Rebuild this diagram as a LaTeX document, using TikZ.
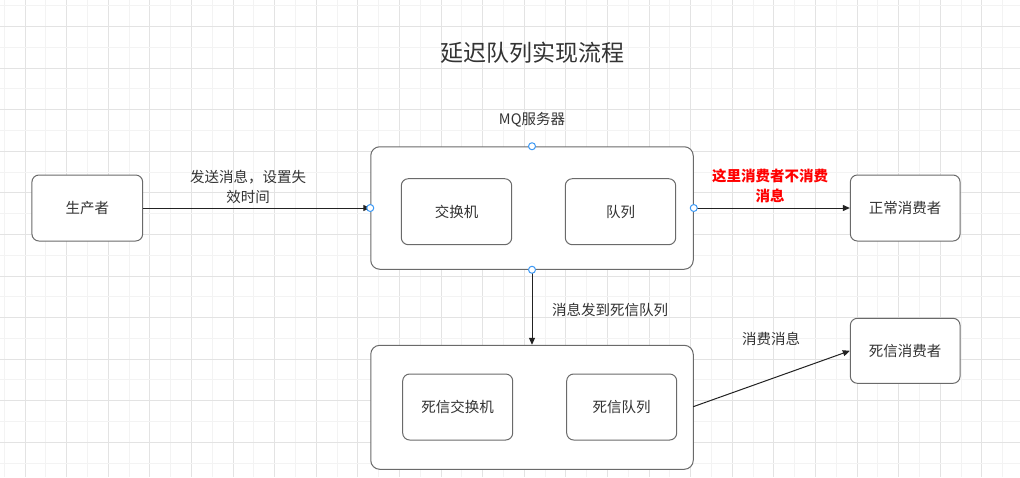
\documentclass[tikz,border=0pt]{standalone}
\usepackage{fontspec}
\newfontfamily\cjk{Noto Sans CJK SC}
\usetikzlibrary{arrows.meta}
\definecolor{gridlight}{HTML}{F3F3F3}
\definecolor{griddark}{HTML}{E3E3E3}
\definecolor{boxline}{HTML}{6A6A6A}
\definecolor{portblue}{HTML}{3D99F5}
\definecolor{edgecol}{HTML}{222222}
\tikzset{
  box/.style={draw=boxline, line width=1pt, fill=white, rounded corners=7pt, inner sep=0pt,
    font=\cjk\fontsize{14.5}{20}\selectfont, text=black!80},
  bigbox/.style={draw=boxline, line width=1pt, fill=white, rounded corners=9pt, inner sep=0pt},
  lbl/.style={font=\cjk\fontsize{14.5}{20}\selectfont, text=black!80, align=center, inner sep=0pt},
  redlbl/.style={font=\cjk\bfseries\fontsize{14.5}{20}\selectfont, text=red, align=center, inner sep=0pt},
  edge/.style={draw=edgecol, line width=1pt, -{Triangle[length=7pt,width=6pt]}},
  port/.style={circle, draw=portblue, fill=white, line width=1pt, minimum size=7pt, inner sep=0pt}
}
\begin{document}
\begin{tikzpicture}[x=1pt,y=-1pt]
\useasboundingbox (0,0) rectangle (1020,477);
\fill[white] (0,0) rectangle (1020,477);
% grid
\foreach \k in {-1,...,48}{
  \pgfmathsetmacro{\xx}{25+20.8*\k}
  \pgfmathtruncatemacro{\pp}{mod(\k+10,2)}
  \ifnum\pp=0 \draw[griddark,line width=1pt] (\xx,0) -- (\xx,477); \else \draw[gridlight,line width=1pt] (\xx,0) -- (\xx,477); \fi
}
\foreach \k in {-14,...,10}{
  \pgfmathsetmacro{\yy}{276+20.78*\k}
  \pgfmathtruncatemacro{\pp}{mod(\k+20,2)}
  \ifnum\pp=0 \draw[griddark,line width=1pt] (0,\yy) -- (1020,\yy); \else \draw[gridlight,line width=1pt] (0,\yy) -- (1020,\yy); \fi
}
% title
\node[lbl, font=\cjk\fontsize{23}{28}\selectfont] (title) at (532.5,53) {延迟队列实现流程};
\node[lbl] (mqlabel) at (532,120) {MQ服务器};
% MQ server
\node[bigbox, minimum width=322.5pt, minimum height=122.5pt] (mq) at (532,208) {};
\node[box, minimum width=110.4pt, minimum height=66pt] (ex) at (456.5,211.7) {交换机};
\node[box, minimum width=110.4pt, minimum height=66pt] (q) at (620.5,211.7) {队列};
% dead letter
\node[bigbox, minimum width=322.5pt, minimum height=124pt] (dl) at (532,407.3) {};
\node[box, minimum width=110pt, minimum height=66pt] (dlx) at (457.7,407) {死信交换机};
\node[box, minimum width=110pt, minimum height=66pt] (dlq) at (621.7,407) {死信队列};
% outer nodes
\node[box, minimum width=110.7pt, minimum height=66pt] (prod) at (87.3,208) {生产者};
\node[box, minimum width=109.7pt, minimum height=66pt] (norm) at (905.2,208) {正常消费者};
\node[box, minimum width=109.7pt, minimum height=65pt] (dead) at (905.2,350.8) {死信消费者};
% edges
\draw[edge] (prod.east) -- (mq.west);
\node[lbl] (l1) at (248,187) {发送消息，设置失\\效时间};
\draw[edge] (mq.east) -- (norm.west);
\node[redlbl] (l2) at (770,186) {这里消费者不消费\\消息};
\draw[edge] (mq.south) -- (dl.north);
\node[lbl, anchor=west] (l3) at (552,310) {消息发到死信队列};
\coordinate (dlout) at (693.2,406.7);
\draw[edge] (dlout) -- (dead.west);
\node[lbl] (l4) at (771,339) {消费消息};
% ports
\node[port] (p1) at (mq.north) {};
\node[port] (p2) at (mq.west) {};
\node[port] (p3) at (mq.east) {};
\node[port] (p4) at (mq.south) {};
\end{tikzpicture}
\end{document}
